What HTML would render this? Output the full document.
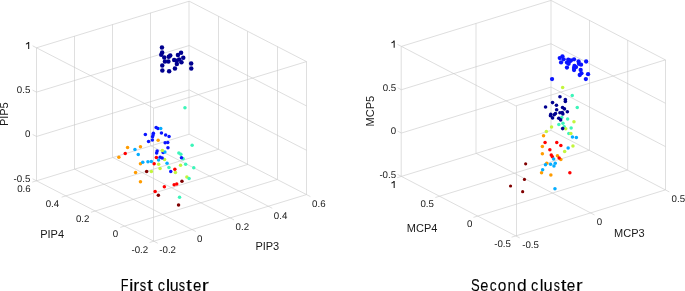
<!DOCTYPE html>
<html><head><meta charset="utf-8"><style>
html,body{margin:0;padding:0;background:#fff;width:685px;height:291px;overflow:hidden}
svg{display:block;font-family:"Liberation Sans",sans-serif}
</style></head><body>
<svg width="685" height="291" viewBox="0 0 685 291" font-family="Liberation Sans, sans-serif">
<rect width="685" height="291" fill="#fff"/>
<g>
<line x1="36.50" y1="180.80" x2="36.50" y2="47.80" stroke="#cecece" stroke-width="0.65"/>
<line x1="74.50" y1="169.15" x2="74.50" y2="36.15" stroke="#cecece" stroke-width="0.65"/>
<line x1="112.50" y1="157.50" x2="112.50" y2="24.50" stroke="#cecece" stroke-width="0.65"/>
<line x1="150.50" y1="145.85" x2="150.50" y2="12.85" stroke="#cecece" stroke-width="0.65"/>
<line x1="189.00" y1="134.20" x2="189.00" y2="1.20" stroke="#cecece" stroke-width="0.65"/>
<line x1="36.50" y1="180.80" x2="189.20" y2="134.20" stroke="#c8c8c8" stroke-width="0.6"/>
<line x1="36.50" y1="136.47" x2="189.20" y2="89.87" stroke="#c8c8c8" stroke-width="0.6"/>
<line x1="36.50" y1="92.13" x2="189.20" y2="45.53" stroke="#c8c8c8" stroke-width="0.6"/>
<line x1="36.50" y1="47.80" x2="189.20" y2="1.20" stroke="#c8c8c8" stroke-width="0.6"/>
<line x1="306.50" y1="194.60" x2="306.50" y2="61.60" stroke="#cecece" stroke-width="0.65"/>
<line x1="277.50" y1="179.50" x2="277.50" y2="46.50" stroke="#cecece" stroke-width="0.65"/>
<line x1="247.50" y1="164.40" x2="247.50" y2="31.40" stroke="#cecece" stroke-width="0.65"/>
<line x1="218.50" y1="149.30" x2="218.50" y2="16.30" stroke="#cecece" stroke-width="0.65"/>
<line x1="306.50" y1="194.60" x2="189.20" y2="134.20" stroke="#c8c8c8" stroke-width="0.6"/>
<line x1="306.50" y1="150.27" x2="189.20" y2="89.87" stroke="#c8c8c8" stroke-width="0.6"/>
<line x1="306.50" y1="105.93" x2="189.20" y2="45.53" stroke="#c8c8c8" stroke-width="0.6"/>
<line x1="306.50" y1="61.60" x2="189.20" y2="1.20" stroke="#c8c8c8" stroke-width="0.6"/>
<line x1="153.80" y1="241.20" x2="36.50" y2="180.80" stroke="#c8c8c8" stroke-width="0.6"/>
<line x1="191.98" y1="229.55" x2="74.68" y2="169.15" stroke="#c8c8c8" stroke-width="0.6"/>
<line x1="230.15" y1="217.90" x2="112.85" y2="157.50" stroke="#c8c8c8" stroke-width="0.6"/>
<line x1="268.33" y1="206.25" x2="151.03" y2="145.85" stroke="#c8c8c8" stroke-width="0.6"/>
<line x1="153.80" y1="241.20" x2="306.50" y2="194.60" stroke="#c8c8c8" stroke-width="0.6"/>
<line x1="124.48" y1="226.10" x2="277.18" y2="179.50" stroke="#c8c8c8" stroke-width="0.6"/>
<line x1="95.15" y1="211.00" x2="247.85" y2="164.40" stroke="#c8c8c8" stroke-width="0.6"/>
<line x1="65.83" y1="195.90" x2="218.52" y2="149.30" stroke="#c8c8c8" stroke-width="0.6"/>
<line x1="153.80" y1="108.20" x2="306.50" y2="61.60" stroke="#c8c8c8" stroke-width="0.6"/>
<line x1="153.80" y1="108.20" x2="36.50" y2="47.80" stroke="#c8c8c8" stroke-width="0.6"/>
<line x1="153.50" y1="241.20" x2="153.50" y2="108.20" stroke="#cecece" stroke-width="0.65"/>
<line x1="36.50" y1="180.80" x2="32.59" y2="178.79" stroke="#c8c8c8" stroke-width="0.6"/>
<line x1="36.50" y1="136.47" x2="32.59" y2="134.45" stroke="#c8c8c8" stroke-width="0.6"/>
<line x1="36.50" y1="92.13" x2="32.59" y2="90.12" stroke="#c8c8c8" stroke-width="0.6"/>
<line x1="36.50" y1="47.80" x2="32.59" y2="45.79" stroke="#c8c8c8" stroke-width="0.6"/>
<line x1="153.80" y1="241.20" x2="149.59" y2="242.48" stroke="#c8c8c8" stroke-width="0.6"/>
<line x1="124.48" y1="226.10" x2="120.27" y2="227.38" stroke="#c8c8c8" stroke-width="0.6"/>
<line x1="95.15" y1="211.00" x2="90.94" y2="212.28" stroke="#c8c8c8" stroke-width="0.6"/>
<line x1="65.83" y1="195.90" x2="61.62" y2="197.18" stroke="#c8c8c8" stroke-width="0.6"/>
<line x1="36.50" y1="180.80" x2="32.29" y2="182.08" stroke="#c8c8c8" stroke-width="0.6"/>
<line x1="153.80" y1="241.20" x2="157.71" y2="243.21" stroke="#c8c8c8" stroke-width="0.6"/>
<line x1="191.98" y1="229.55" x2="195.89" y2="231.56" stroke="#c8c8c8" stroke-width="0.6"/>
<line x1="230.15" y1="217.90" x2="234.06" y2="219.91" stroke="#c8c8c8" stroke-width="0.6"/>
<line x1="268.33" y1="206.25" x2="272.24" y2="208.26" stroke="#c8c8c8" stroke-width="0.6"/>
<line x1="306.50" y1="194.60" x2="310.41" y2="196.61" stroke="#c8c8c8" stroke-width="0.6"/>
<line x1="401.20" y1="176.40" x2="401.20" y2="46.40" stroke="#cecece" stroke-width="0.65"/>
<line x1="476.00" y1="153.40" x2="476.00" y2="23.40" stroke="#cecece" stroke-width="0.65"/>
<line x1="551.00" y1="130.40" x2="551.00" y2="0.40" stroke="#cecece" stroke-width="0.65"/>
<line x1="401.40" y1="176.40" x2="551.00" y2="130.40" stroke="#c8c8c8" stroke-width="0.6"/>
<line x1="401.40" y1="133.07" x2="551.00" y2="87.07" stroke="#c8c8c8" stroke-width="0.6"/>
<line x1="401.40" y1="89.73" x2="551.00" y2="43.73" stroke="#c8c8c8" stroke-width="0.6"/>
<line x1="401.40" y1="46.40" x2="551.00" y2="0.40" stroke="#c8c8c8" stroke-width="0.6"/>
<line x1="665.50" y1="189.90" x2="665.50" y2="59.90" stroke="#cecece" stroke-width="0.65"/>
<line x1="627.70" y1="170.07" x2="627.70" y2="40.07" stroke="#cecece" stroke-width="0.65"/>
<line x1="589.50" y1="150.23" x2="589.50" y2="20.23" stroke="#cecece" stroke-width="0.65"/>
<line x1="665.40" y1="189.90" x2="551.00" y2="130.40" stroke="#c8c8c8" stroke-width="0.6"/>
<line x1="665.40" y1="146.57" x2="551.00" y2="87.07" stroke="#c8c8c8" stroke-width="0.6"/>
<line x1="665.40" y1="103.23" x2="551.00" y2="43.73" stroke="#c8c8c8" stroke-width="0.6"/>
<line x1="665.40" y1="59.90" x2="551.00" y2="0.40" stroke="#c8c8c8" stroke-width="0.6"/>
<line x1="515.80" y1="235.90" x2="401.40" y2="176.40" stroke="#c8c8c8" stroke-width="0.6"/>
<line x1="590.60" y1="212.90" x2="476.20" y2="153.40" stroke="#c8c8c8" stroke-width="0.6"/>
<line x1="515.80" y1="235.90" x2="665.40" y2="189.90" stroke="#c8c8c8" stroke-width="0.6"/>
<line x1="477.67" y1="216.07" x2="627.27" y2="170.07" stroke="#c8c8c8" stroke-width="0.6"/>
<line x1="439.53" y1="196.23" x2="589.13" y2="150.23" stroke="#c8c8c8" stroke-width="0.6"/>
<line x1="515.80" y1="105.90" x2="665.40" y2="59.90" stroke="#c8c8c8" stroke-width="0.6"/>
<line x1="515.80" y1="105.90" x2="401.40" y2="46.40" stroke="#c8c8c8" stroke-width="0.6"/>
<line x1="516.50" y1="235.90" x2="516.50" y2="105.90" stroke="#cecece" stroke-width="0.65"/>
<line x1="401.40" y1="176.40" x2="397.50" y2="174.37" stroke="#c8c8c8" stroke-width="0.6"/>
<line x1="401.40" y1="133.07" x2="397.50" y2="131.04" stroke="#c8c8c8" stroke-width="0.6"/>
<line x1="401.40" y1="89.73" x2="397.50" y2="87.70" stroke="#c8c8c8" stroke-width="0.6"/>
<line x1="401.40" y1="46.40" x2="397.50" y2="44.37" stroke="#c8c8c8" stroke-width="0.6"/>
<line x1="515.80" y1="235.90" x2="511.59" y2="237.19" stroke="#c8c8c8" stroke-width="0.6"/>
<line x1="477.67" y1="216.07" x2="473.46" y2="217.36" stroke="#c8c8c8" stroke-width="0.6"/>
<line x1="439.53" y1="196.23" x2="435.33" y2="197.53" stroke="#c8c8c8" stroke-width="0.6"/>
<line x1="401.40" y1="176.40" x2="397.19" y2="177.69" stroke="#c8c8c8" stroke-width="0.6"/>
<line x1="515.80" y1="235.90" x2="519.70" y2="237.93" stroke="#c8c8c8" stroke-width="0.6"/>
<line x1="590.60" y1="212.90" x2="594.50" y2="214.93" stroke="#c8c8c8" stroke-width="0.6"/>
<line x1="665.40" y1="189.90" x2="669.30" y2="191.93" stroke="#c8c8c8" stroke-width="0.6"/>
</g>
<g>
<circle cx="161.95" cy="47.5" r="2.25" fill="#00008f"/>
<circle cx="162.15" cy="52.6" r="2.25" fill="#00008f"/>
<circle cx="161.25" cy="54.8" r="2.25" fill="#00008f"/>
<circle cx="164.25" cy="57.5" r="2.25" fill="#00008f"/>
<circle cx="170.25" cy="55.5" r="2.25" fill="#00008f"/>
<circle cx="168.75" cy="56.8" r="2.25" fill="#00008f"/>
<circle cx="164.95" cy="61.6" r="2.25" fill="#00008f"/>
<circle cx="168.35" cy="61.6" r="2.25" fill="#00008f"/>
<circle cx="162.25" cy="65.5" r="2.25" fill="#00008f"/>
<circle cx="177.95" cy="55.1" r="2.25" fill="#00008f"/>
<circle cx="181.05" cy="52.8" r="2.25" fill="#00008f"/>
<circle cx="183.25" cy="57.7" r="2.25" fill="#00008f"/>
<circle cx="174.15" cy="60.0" r="2.25" fill="#00008f"/>
<circle cx="176.65" cy="60.7" r="2.25" fill="#00008f"/>
<circle cx="179.15" cy="59.5" r="2.25" fill="#00008f"/>
<circle cx="181.45" cy="62.2" r="2.25" fill="#00008f"/>
<circle cx="176.85" cy="64.0" r="2.25" fill="#00008f"/>
<circle cx="191.15" cy="63.6" r="2.25" fill="#00008f"/>
<circle cx="191.25" cy="68.4" r="2.25" fill="#00008f"/>
<circle cx="174.95" cy="68.5" r="2.25" fill="#00008f"/>
<circle cx="162.35" cy="70.5" r="2.25" fill="#00008f"/>
<circle cx="169.15" cy="71.2" r="2.25" fill="#00008f"/>
<circle cx="164.55" cy="159.4" r="1.75" fill="#c3f53c"/>
<circle cx="156.15" cy="127.5" r="1.75" fill="#0a14ff"/>
<circle cx="157.95" cy="128.6" r="1.75" fill="#0a14ff"/>
<circle cx="145.35" cy="134.6" r="1.75" fill="#0a14ff"/>
<circle cx="153.35" cy="133.3" r="1.75" fill="#0a14ff"/>
<circle cx="153.05" cy="135.1" r="1.75" fill="#0a14ff"/>
<circle cx="152.55" cy="136.8" r="1.75" fill="#0a14ff"/>
<circle cx="152.35" cy="139.9" r="1.75" fill="#0a14ff"/>
<circle cx="148.55" cy="141.5" r="1.75" fill="#0a14ff"/>
<circle cx="161.45" cy="133.0" r="1.75" fill="#0a14ff"/>
<circle cx="165.65" cy="135.1" r="1.75" fill="#0a14ff"/>
<circle cx="169.05" cy="136.6" r="1.75" fill="#0a14ff"/>
<circle cx="165.15" cy="142.8" r="1.75" fill="#0a14ff"/>
<circle cx="167.75" cy="142.5" r="1.75" fill="#0a14ff"/>
<circle cx="167.95" cy="147.8" r="1.75" fill="#0a14ff"/>
<circle cx="157.15" cy="151.1" r="1.75" fill="#0a14ff"/>
<circle cx="156.65" cy="153.1" r="1.75" fill="#0a14ff"/>
<circle cx="163.15" cy="152.6" r="1.75" fill="#0a14ff"/>
<circle cx="160.15" cy="157.3" r="1.75" fill="#0a14ff"/>
<circle cx="162.15" cy="158.1" r="1.75" fill="#0a14ff"/>
<circle cx="170.75" cy="171.6" r="1.75" fill="#0a14ff"/>
<circle cx="158.15" cy="140.3" r="1.75" fill="#ff9c00"/>
<circle cx="140.45" cy="146.7" r="1.75" fill="#ff9c00"/>
<circle cx="127.55" cy="147.5" r="1.75" fill="#ff9c00"/>
<circle cx="118.85" cy="157.3" r="1.75" fill="#ff9c00"/>
<circle cx="140.45" cy="163.7" r="1.75" fill="#ff9c00"/>
<circle cx="135.55" cy="172.5" r="1.75" fill="#ff9c00"/>
<circle cx="140.45" cy="181.8" r="1.75" fill="#ff9c00"/>
<circle cx="160.75" cy="128.6" r="1.75" fill="#05adff"/>
<circle cx="164.85" cy="152.0" r="1.75" fill="#05adff"/>
<circle cx="134.95" cy="149.6" r="1.75" fill="#05adff"/>
<circle cx="138.25" cy="154.5" r="1.75" fill="#05adff"/>
<circle cx="142.75" cy="162.3" r="1.75" fill="#05adff"/>
<circle cx="147.95" cy="161.8" r="1.75" fill="#05adff"/>
<circle cx="151.35" cy="161.5" r="1.75" fill="#05adff"/>
<circle cx="158.55" cy="159.9" r="1.75" fill="#05adff"/>
<circle cx="167.05" cy="163.3" r="1.75" fill="#05adff"/>
<circle cx="162.35" cy="150.6" r="1.75" fill="#c3f53c"/>
<circle cx="158.65" cy="164.2" r="1.75" fill="#c3f53c"/>
<circle cx="180.55" cy="165.2" r="1.75" fill="#c3f53c"/>
<circle cx="160.05" cy="168.6" r="1.75" fill="#c3f53c"/>
<circle cx="151.35" cy="171.6" r="1.75" fill="#c3f53c"/>
<circle cx="175.45" cy="172.6" r="1.75" fill="#c3f53c"/>
<circle cx="186.85" cy="177.0" r="1.75" fill="#c3f53c"/>
<circle cx="184.95" cy="107.7" r="1.75" fill="#3cf5b9"/>
<circle cx="192.15" cy="145.2" r="1.75" fill="#3cf5b9"/>
<circle cx="178.85" cy="152.9" r="1.75" fill="#3cf5b9"/>
<circle cx="180.85" cy="154.3" r="1.75" fill="#3cf5b9"/>
<circle cx="183.15" cy="158.8" r="1.75" fill="#3cf5b9"/>
<circle cx="185.65" cy="164.2" r="1.75" fill="#3cf5b9"/>
<circle cx="193.75" cy="167.8" r="1.75" fill="#3cf5b9"/>
<circle cx="168.95" cy="167.5" r="1.75" fill="#3cf5b9"/>
<circle cx="189.05" cy="178.6" r="1.75" fill="#3cf5b9"/>
<circle cx="179.55" cy="197.2" r="1.75" fill="#3cf5b9"/>
<circle cx="146.65" cy="171.6" r="1.75" fill="#800000"/>
<circle cx="181.95" cy="181.3" r="1.75" fill="#800000"/>
<circle cx="158.35" cy="195.2" r="1.75" fill="#800000"/>
<circle cx="178.55" cy="205.0" r="1.75" fill="#800000"/>
<circle cx="125.25" cy="153.4" r="1.75" fill="#ff0000"/>
<circle cx="156.35" cy="157.4" r="1.75" fill="#ff0000"/>
<circle cx="154.15" cy="163.7" r="1.75" fill="#ff0000"/>
<circle cx="174.85" cy="169.3" r="1.75" fill="#ff0000"/>
<circle cx="174.15" cy="184.8" r="1.75" fill="#ff0000"/>
<circle cx="176.75" cy="184.1" r="1.75" fill="#ff0000"/>
<circle cx="164.35" cy="186.8" r="1.75" fill="#ff0000"/>
<circle cx="155.15" cy="191.5" r="1.75" fill="#ff0000"/>
<circle cx="181.45" cy="157.8" r="1.75" fill="#0a14ff"/>
<circle cx="570.95" cy="60.5" r="2.15" fill="#0a14ff"/>
<circle cx="562.45" cy="56.3" r="2.15" fill="#0a14ff"/>
<circle cx="559.75" cy="58.1" r="2.15" fill="#0a14ff"/>
<circle cx="563.65" cy="59.3" r="2.15" fill="#0a14ff"/>
<circle cx="561.05" cy="62.4" r="2.15" fill="#0a14ff"/>
<circle cx="568.25" cy="59.7" r="2.15" fill="#0a14ff"/>
<circle cx="569.85" cy="61.0" r="2.15" fill="#0a14ff"/>
<circle cx="574.05" cy="59.3" r="2.15" fill="#0a14ff"/>
<circle cx="566.95" cy="62.6" r="2.15" fill="#0a14ff"/>
<circle cx="568.65" cy="63.8" r="2.15" fill="#0a14ff"/>
<circle cx="566.95" cy="67.6" r="2.15" fill="#0a14ff"/>
<circle cx="578.55" cy="61.4" r="2.15" fill="#0a14ff"/>
<circle cx="578.95" cy="63.8" r="2.15" fill="#0a14ff"/>
<circle cx="581.05" cy="64.7" r="2.15" fill="#0a14ff"/>
<circle cx="586.15" cy="61.5" r="2.15" fill="#0a14ff"/>
<circle cx="574.45" cy="65.9" r="2.15" fill="#0a14ff"/>
<circle cx="574.05" cy="68.0" r="2.15" fill="#0a14ff"/>
<circle cx="574.05" cy="70.0" r="2.15" fill="#0a14ff"/>
<circle cx="576.05" cy="67.1" r="2.15" fill="#0a14ff"/>
<circle cx="580.65" cy="70.0" r="2.15" fill="#0a14ff"/>
<circle cx="581.45" cy="73.3" r="2.15" fill="#0a14ff"/>
<circle cx="579.75" cy="75.0" r="2.15" fill="#0a14ff"/>
<circle cx="588.05" cy="74.2" r="2.15" fill="#0a14ff"/>
<circle cx="585.85" cy="79.1" r="2.15" fill="#0a14ff"/>
<circle cx="552.05" cy="79.1" r="2.15" fill="#0a14ff"/>
<circle cx="572.25" cy="95.5" r="1.75" fill="#3cf5b9"/>
<circle cx="577.25" cy="107.6" r="1.75" fill="#3cf5b9"/>
<circle cx="561.75" cy="117.4" r="1.75" fill="#3cf5b9"/>
<circle cx="567.65" cy="118.9" r="1.75" fill="#3cf5b9"/>
<circle cx="558.85" cy="124.5" r="1.75" fill="#3cf5b9"/>
<circle cx="562.95" cy="123.2" r="1.75" fill="#3cf5b9"/>
<circle cx="564.15" cy="126.8" r="1.75" fill="#3cf5b9"/>
<circle cx="571.15" cy="128.1" r="1.75" fill="#3cf5b9"/>
<circle cx="568.85" cy="133.6" r="1.75" fill="#3cf5b9"/>
<circle cx="562.65" cy="87.6" r="1.75" fill="#c3f53c"/>
<circle cx="573.95" cy="121.8" r="1.75" fill="#c3f53c"/>
<circle cx="565.75" cy="128.8" r="1.75" fill="#c3f53c"/>
<circle cx="551.55" cy="127.1" r="1.75" fill="#c3f53c"/>
<circle cx="546.35" cy="131.5" r="1.75" fill="#c3f53c"/>
<circle cx="570.85" cy="133.6" r="1.75" fill="#c3f53c"/>
<circle cx="572.95" cy="146.0" r="1.75" fill="#c3f53c"/>
<circle cx="564.65" cy="151.6" r="1.75" fill="#c3f53c"/>
<circle cx="543.55" cy="135.8" r="1.75" fill="#ff9c00"/>
<circle cx="542.35" cy="146.5" r="1.75" fill="#ff9c00"/>
<circle cx="542.35" cy="153.7" r="1.75" fill="#ff9c00"/>
<circle cx="557.45" cy="155.8" r="1.75" fill="#ff9c00"/>
<circle cx="560.85" cy="159.4" r="1.75" fill="#ff9c00"/>
<circle cx="546.75" cy="163.2" r="1.75" fill="#ff9c00"/>
<circle cx="541.55" cy="172.7" r="1.75" fill="#ff9c00"/>
<circle cx="550.85" cy="175.1" r="1.75" fill="#ff9c00"/>
<circle cx="545.05" cy="142.5" r="1.75" fill="#ff0000"/>
<circle cx="556.75" cy="142.5" r="1.75" fill="#ff0000"/>
<circle cx="560.85" cy="145.6" r="1.75" fill="#ff0000"/>
<circle cx="549.85" cy="149.8" r="1.75" fill="#ff0000"/>
<circle cx="551.25" cy="154.9" r="1.75" fill="#ff0000"/>
<circle cx="552.35" cy="156.8" r="1.75" fill="#ff0000"/>
<circle cx="559.15" cy="158.0" r="1.75" fill="#ff0000"/>
<circle cx="569.85" cy="172.7" r="1.75" fill="#ff0000"/>
<circle cx="572.45" cy="137.1" r="1.75" fill="#05adff"/>
<circle cx="576.35" cy="137.4" r="1.75" fill="#05adff"/>
<circle cx="568.15" cy="148.1" r="1.75" fill="#05adff"/>
<circle cx="553.65" cy="159.1" r="1.75" fill="#05adff"/>
<circle cx="545.45" cy="164.8" r="1.75" fill="#05adff"/>
<circle cx="550.55" cy="164.2" r="1.75" fill="#05adff"/>
<circle cx="555.25" cy="163.2" r="1.75" fill="#05adff"/>
<circle cx="553.95" cy="166.1" r="1.75" fill="#05adff"/>
<circle cx="542.65" cy="169.8" r="1.75" fill="#05adff"/>
<circle cx="554.95" cy="188.8" r="1.75" fill="#05adff"/>
<circle cx="525.65" cy="163.8" r="1.6" fill="#800000"/>
<circle cx="524.45" cy="179.4" r="1.6" fill="#800000"/>
<circle cx="510.55" cy="186.0" r="1.6" fill="#800000"/>
<circle cx="522.65" cy="191.7" r="1.6" fill="#800000"/>
<circle cx="559.95" cy="96.7" r="1.8" fill="#00008f"/>
<circle cx="565.35" cy="99.5" r="1.8" fill="#00008f"/>
<circle cx="565.35" cy="101.4" r="1.8" fill="#00008f"/>
<circle cx="552.55" cy="102.6" r="1.8" fill="#00008f"/>
<circle cx="556.45" cy="105.3" r="1.8" fill="#00008f"/>
<circle cx="545.55" cy="107.0" r="1.8" fill="#00008f"/>
<circle cx="562.55" cy="107.5" r="1.8" fill="#00008f"/>
<circle cx="564.45" cy="108.9" r="1.8" fill="#00008f"/>
<circle cx="556.65" cy="109.7" r="1.8" fill="#00008f"/>
<circle cx="567.35" cy="111.7" r="1.8" fill="#00008f"/>
<circle cx="559.95" cy="112.7" r="1.8" fill="#00008f"/>
<circle cx="562.25" cy="112.5" r="1.8" fill="#00008f"/>
<circle cx="562.85" cy="114.0" r="1.8" fill="#00008f"/>
<circle cx="555.45" cy="113.6" r="1.8" fill="#00008f"/>
<circle cx="554.15" cy="114.8" r="1.8" fill="#00008f"/>
<circle cx="550.75" cy="114.4" r="1.8" fill="#00008f"/>
<circle cx="550.45" cy="115.8" r="1.8" fill="#00008f"/>
<circle cx="552.55" cy="117.9" r="1.8" fill="#00008f"/>
<circle cx="558.75" cy="118.3" r="1.8" fill="#00008f"/>
<circle cx="560.65" cy="119.9" r="1.8" fill="#00008f"/>
<circle cx="562.65" cy="128.6" r="1.8" fill="#00008f"/>
</g>
<g style="opacity:0.999">
<path d="M28.15,41.90 L29.20,41.90 L29.20,49.10 L28.15,49.10 L28.15,43.60 Q27.10,44.40 25.90,44.50 L25.90,43.60 Q27.40,43.30 28.15,41.90 Z" fill="#181818"/>
<text x="30.30" y="93.20" font-size="9.7" text-anchor="end" fill="#181818" text-rendering="geometricPrecision">0.5</text>
<text x="30.30" y="137.20" font-size="9.7" text-anchor="end" fill="#181818" text-rendering="geometricPrecision">0</text>
<text x="30.30" y="181.90" font-size="9.7" text-anchor="end" fill="#181818" text-rendering="geometricPrecision">-0.5</text>
<text x="30.70" y="192.00" font-size="9.7" text-anchor="end" fill="#181818" text-rendering="geometricPrecision">0.6</text>
<text x="59.20" y="207.00" font-size="9.7" text-anchor="end" fill="#181818" text-rendering="geometricPrecision">0.4</text>
<text x="89.40" y="222.00" font-size="9.7" text-anchor="end" fill="#181818" text-rendering="geometricPrecision">0.2</text>
<text x="118.20" y="237.00" font-size="9.7" text-anchor="end" fill="#181818" text-rendering="geometricPrecision">0</text>
<text x="148.20" y="253.00" font-size="9.7" text-anchor="end" fill="#181818" text-rendering="geometricPrecision">-0.2</text>
<text x="159.30" y="252.60" font-size="9.7" text-anchor="start" fill="#181818" text-rendering="geometricPrecision">-0.2</text>
<text x="197.00" y="241.60" font-size="9.7" text-anchor="start" fill="#181818" text-rendering="geometricPrecision">0</text>
<text x="235.60" y="229.70" font-size="9.7" text-anchor="start" fill="#181818" text-rendering="geometricPrecision">0.2</text>
<text x="273.80" y="218.50" font-size="9.7" text-anchor="start" fill="#181818" text-rendering="geometricPrecision">0.4</text>
<text x="312.10" y="206.50" font-size="9.7" text-anchor="start" fill="#181818" text-rendering="geometricPrecision">0.6</text>
<text x="40.20" y="238.00" font-size="11" text-anchor="start" fill="#181818">PIP4</text>
<text x="255.40" y="250.00" font-size="11" text-anchor="start" fill="#181818">PIP3</text>
<text x="0" y="0" font-size="11" text-anchor="middle" fill="#181818" transform="translate(8.4,114.2) rotate(-90)">PIP5</text>
<path d="M393.65,40.60 L394.70,40.60 L394.70,47.80 L393.65,47.80 L393.65,42.30 Q392.60,43.10 391.40,43.20 L391.40,42.30 Q392.90,42.00 393.65,40.60 Z" fill="#181818"/>
<text x="396.10" y="91.10" font-size="9.7" text-anchor="end" fill="#181818" text-rendering="geometricPrecision">0.5</text>
<text x="396.10" y="134.10" font-size="9.7" text-anchor="end" fill="#181818" text-rendering="geometricPrecision">0</text>
<text x="396.10" y="178.20" font-size="9.7" text-anchor="end" fill="#181818" text-rendering="geometricPrecision">-0.5</text>
<path d="M393.65,180.90 L394.70,180.90 L394.70,188.10 L393.65,188.10 L393.65,182.60 Q392.60,183.40 391.40,183.50 L391.40,182.60 Q392.90,182.30 393.65,180.90 Z" fill="#181818"/>
<text x="433.90" y="207.30" font-size="9.7" text-anchor="end" fill="#181818" text-rendering="geometricPrecision">0.5</text>
<text x="472.30" y="227.20" font-size="9.7" text-anchor="end" fill="#181818" text-rendering="geometricPrecision">0</text>
<text x="510.90" y="247.10" font-size="9.7" text-anchor="end" fill="#181818" text-rendering="geometricPrecision">-0.5</text>
<text x="522.20" y="248.30" font-size="9.7" text-anchor="start" fill="#181818" text-rendering="geometricPrecision">-0.5</text>
<text x="596.70" y="225.40" font-size="9.7" text-anchor="start" fill="#181818" text-rendering="geometricPrecision">0</text>
<text x="671.60" y="202.30" font-size="9.7" text-anchor="start" fill="#181818" text-rendering="geometricPrecision">0.5</text>
<text x="406.80" y="232.00" font-size="11" text-anchor="start" fill="#181818">MCP4</text>
<text x="614.10" y="237.00" font-size="11" text-anchor="start" fill="#181818">MCP3</text>
<text x="0" y="0" font-size="11" text-anchor="middle" fill="#181818" transform="translate(374.3,111.2) rotate(-90)">MCP5</text>
<text x="0" y="0" font-size="17.2" fill="#000" stroke="#000" stroke-width="0.1" transform="translate(120.85,290.5) scale(0.738,1)">F</text>
<text x="0" y="0" font-size="17.2" fill="#000" stroke="#000" stroke-width="0.1" transform="translate(129.08,290.5) scale(1.186,1)">i</text>
<text x="0" y="0" font-size="17.2" fill="#000" stroke="#000" stroke-width="0.1" transform="translate(133.32,290.5) scale(1.057,1)">r</text>
<text x="0" y="0" font-size="17.2" fill="#000" stroke="#000" stroke-width="0.1" transform="translate(139.82,290.5) scale(0.748,1)">s</text>
<text x="0" y="0" font-size="17.2" fill="#000" stroke="#000" stroke-width="0.1" transform="translate(147.05,290.5) scale(1.250,1)">t</text>
<text x="0" y="0" font-size="17.2" fill="#000" stroke="#000" stroke-width="0.1" transform="translate(157.81,290.5) scale(0.839,1)">c</text>
<text x="0" y="0" font-size="17.2" fill="#000" stroke="#000" stroke-width="0.1" transform="translate(165.78,290.5) scale(1.186,1)">l</text>
<text x="0" y="0" font-size="17.2" fill="#000" stroke="#000" stroke-width="0.1" transform="translate(169.86,290.5) scale(0.933,1)">u</text>
<text x="0" y="0" font-size="17.2" fill="#000" stroke="#000" stroke-width="0.1" transform="translate(178.83,290.5) scale(0.735,1)">s</text>
<text x="0" y="0" font-size="17.2" fill="#000" stroke="#000" stroke-width="0.1" transform="translate(185.90,290.5) scale(1.250,1)">t</text>
<text x="0" y="0" font-size="17.2" fill="#000" stroke="#000" stroke-width="0.1" transform="translate(192.98,290.5) scale(0.877,1)">e</text>
<text x="0" y="0" font-size="17.2" fill="#000" stroke="#000" stroke-width="0.1" transform="translate(201.74,290.5) scale(1.250,1)">r</text>
<text x="0" y="0" font-size="17.2" fill="#000" stroke="#000" stroke-width="0.1" transform="translate(470.99,290.5) scale(0.756,1)">S</text>
<text x="0" y="0" font-size="17.2" fill="#000" stroke="#000" stroke-width="0.1" transform="translate(480.30,290.5) scale(0.852,1)">e</text>
<text x="0" y="0" font-size="17.2" fill="#000" stroke="#000" stroke-width="0.1" transform="translate(489.63,290.5) scale(0.799,1)">c</text>
<text x="0" y="0" font-size="17.2" fill="#000" stroke="#000" stroke-width="0.1" transform="translate(497.86,290.5) scale(0.902,1)">o</text>
<text x="0" y="0" font-size="17.2" fill="#000" stroke="#000" stroke-width="0.1" transform="translate(507.42,290.5) scale(0.879,1)">n</text>
<text x="0" y="0" font-size="17.2" fill="#000" stroke="#000" stroke-width="0.1" transform="translate(516.88,290.5) scale(1.014,1)">d</text>
<text x="0" y="0" font-size="17.2" fill="#000" stroke="#000" stroke-width="0.1" transform="translate(531.11,290.5) scale(0.839,1)">c</text>
<text x="0" y="0" font-size="17.2" fill="#000" stroke="#000" stroke-width="0.1" transform="translate(539.70,290.5) scale(0.988,1)">l</text>
<text x="0" y="0" font-size="17.2" fill="#000" stroke="#000" stroke-width="0.1" transform="translate(543.53,290.5) scale(0.961,1)">u</text>
<text x="0" y="0" font-size="17.2" fill="#000" stroke="#000" stroke-width="0.1" transform="translate(553.74,290.5) scale(0.721,1)">s</text>
<text x="0" y="0" font-size="17.2" fill="#000" stroke="#000" stroke-width="0.1" transform="translate(560.64,290.5) scale(1.195,1)">t</text>
<text x="0" y="0" font-size="17.2" fill="#000" stroke="#000" stroke-width="0.1" transform="translate(566.87,290.5) scale(0.890,1)">e</text>
<text x="0" y="0" font-size="17.2" fill="#000" stroke="#000" stroke-width="0.1" transform="translate(576.00,290.5) scale(1.172,1)">r</text>
</g>
</svg>
</body></html>
